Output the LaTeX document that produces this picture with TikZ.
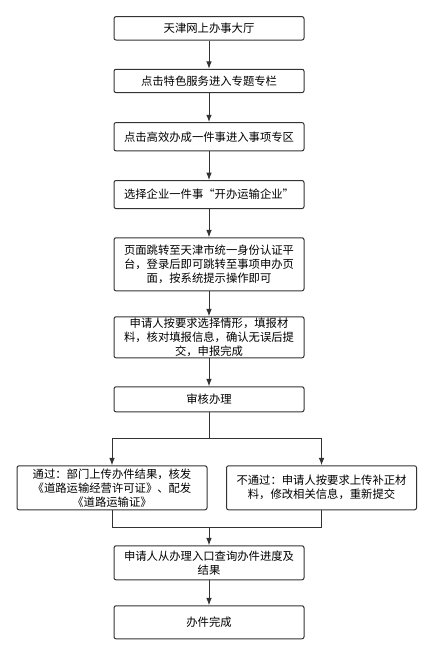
\documentclass[tikz,border=0pt]{standalone}
\usepackage{fontspec}
\newfontfamily\cjk{Noto Sans CJK SC}
\usepackage{tikz}
\usetikzlibrary{positioning, arrows.meta}

\begin{document}
\begin{tikzpicture}[node distance=21pt]
      \tikzstyle{process} = [rectangle, rounded corners=1.5pt, minimum width=142.5pt, minimum height=18pt, inner ysep=0.5pt, align=center, draw=black!80, line width=0.75pt, fill=white, text=black, font=\cjk\fontsize{8.5pt}{10.5pt}\selectfont]
      \tikzstyle{line} = [line width=0.75pt, draw=black!80]
      \tikzstyle{arrow} = [line width=0.75pt, draw=black!80, -{Latex[length=5.5pt,width=4.2pt]}]

      \useasboundingbox (0,0) rectangle (323.25pt,-484.5pt);

      \node (hall) [process, minimum height=17.5pt] at (156.75pt,-21.25pt) {天津网上办事大厅};
      \node (column) [process, minimum height=17.5pt, below=21.2pt of hall] {点击特色服务进入专题专栏};
      \node (zone) [process, minimum height=21.2pt, below=21.75pt of column] {点击高效办成一件事进入事项专区};
      \node (choose) [process, minimum height=21pt, below=21.5pt of zone] {选择企业一件事“开办运输企业”};

      \draw [arrow] (hall) -- (column);
      \draw [arrow] (column) -- (zone);
      \draw [arrow] (zone) -- (choose);

      \node (login) [process, minimum height=39.75pt, below=21.2pt of choose] {页面跳转至天津市统一身份认证平\\台，登录后即可跳转至事项申办页\\面，按系统提示操作即可};
      \node (apply) [process, minimum height=30.75pt, below=18.75pt of login] {申请人按要求选择情形，填报材\\料，核对填报信息，确认无误后提\\交，申报完成};
      \node (review) [process, minimum height=18.75pt, below=21pt of apply] {审核办理};

      \draw [arrow] (choose) -- (login);
      \draw [arrow] (login) -- (apply);
      \draw [arrow] (apply) -- (review);

      \node (pass) [process, minimum height=33pt, below=39.75pt of review, xshift=-72.75pt] {通过：部门上传办件结果，核发\\《道路运输经营许可证》、配发\\《道路运输证》};
      \node (fail) [process, minimum height=33pt, below=39.75pt of review, xshift=84.4pt] {不通过：申请人按要求上传补正材\\料，修改相关信息，重新提交};

      \coordinate [below=19.5pt of review.south] (fork);
      \draw [line] (review) -- (fork);
      \draw [arrow] (fork) -| (pass);
      \draw [arrow] (fork) -| (fail);

      \node (query) [process, minimum height=25.5pt, below=26.25pt of review |- pass.south] {申请人从办理入口查询办件进度及\\结果};
      \node (done) [process, minimum height=24.75pt, below=18.75pt of query] {办件完成};

      \coordinate [above=13.5pt of query.north] (merge);
      \draw [line] (pass) |- (merge);
      \draw [line] (fail) |- (merge);
      \draw [arrow] (merge) -- (query);
      \draw [arrow] (query) -- (done);

    \end{tikzpicture}
\end{document}
